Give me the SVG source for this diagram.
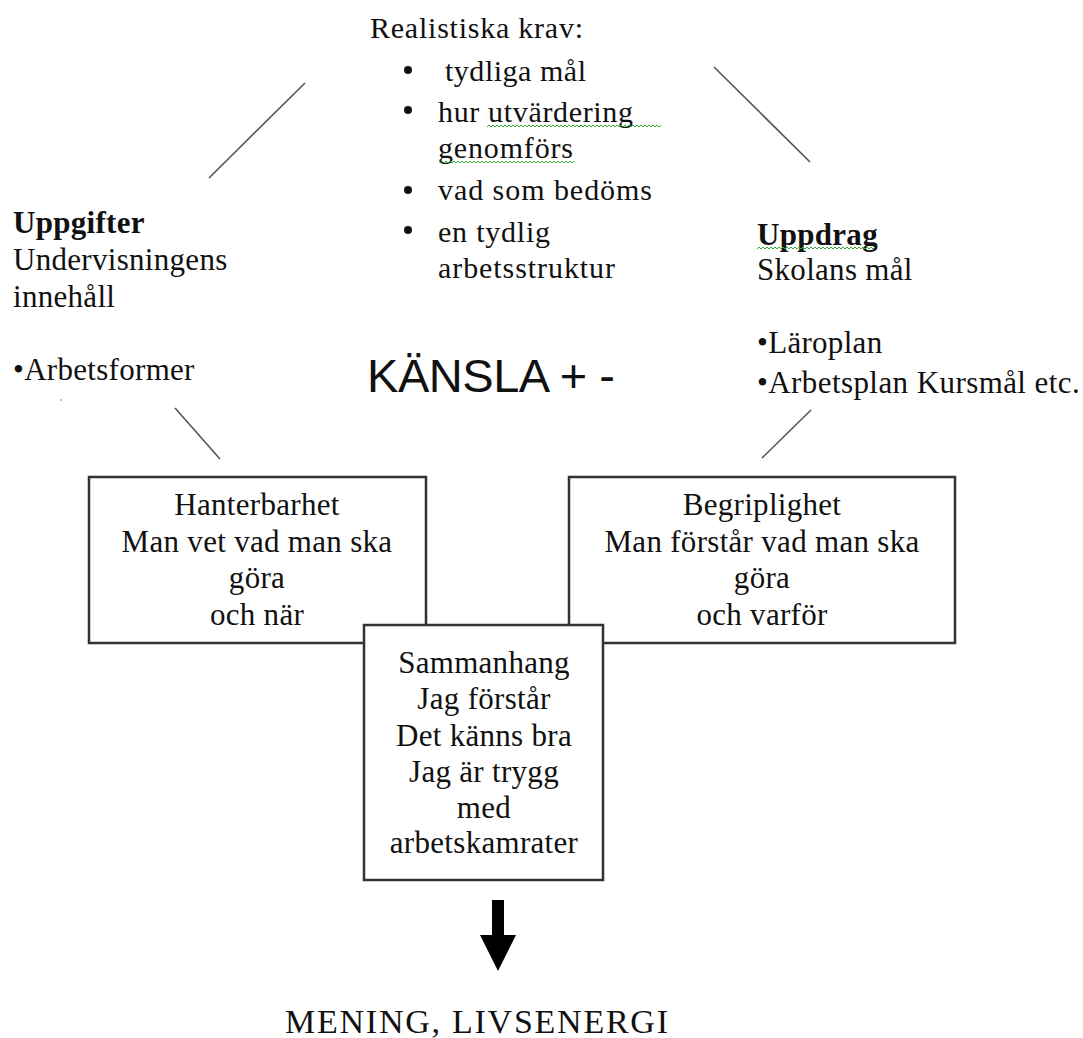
<svg xmlns="http://www.w3.org/2000/svg" width="1083" height="1038" viewBox="0 0 1083 1038">
<style>
.t{font-family:"Liberation Serif","Times New Roman",serif;font-size:31px;fill:#111;letter-spacing:0.3px}
.s{font-family:"Liberation Serif","Times New Roman",serif;font-size:30px;fill:#111}
.b{font-weight:bold}
.c{text-anchor:middle}
.box{fill:#fff;stroke:#333;stroke-width:2.5}
.ln{stroke:#555;stroke-width:1.6;fill:none}
.sq{stroke:#3a3;stroke-width:1;fill:none}
</style>
<rect width="1083" height="1038" fill="#fff"/>
<g id="connectors">
<line class="ln" x1="305" y1="83" x2="209" y2="178"/>
<line class="ln" x1="714" y1="67" x2="810" y2="162"/>
<line class="ln" x1="175" y1="408" x2="220" y2="459"/>
<line class="ln" x1="811" y1="410" x2="762" y2="458"/>
<polygon fill="#000" points="492,900 504,900 504,935 516,935 498,971 480,935 492,935"/>
</g>
<g id="krav">
<text class="s" x="370" y="38" textLength="213" lengthAdjust="spacing">Realistiska krav:</text>
<circle cx="408" cy="70" r="4" fill="#111"/>
<circle cx="408" cy="110" r="4" fill="#111"/>
<circle cx="408" cy="190" r="4" fill="#111"/>
<circle cx="408" cy="230" r="4" fill="#111"/>
<text class="s" x="445" y="81" textLength="141" lengthAdjust="spacing">tydliga mål</text>
<text class="s" x="438" y="122" textLength="195" lengthAdjust="spacing">hur utvärdering</text>
<text class="s" x="438" y="158" textLength="135" lengthAdjust="spacing">genomförs</text>
<text class="s" x="438" y="200" textLength="214" lengthAdjust="spacing">vad som bedöms</text>
<text class="s" x="438" y="242" textLength="112" lengthAdjust="spacing">en tydlig</text>
<text class="s" x="438" y="278" textLength="177" lengthAdjust="spacing">arbetsstruktur</text>
<path class="sq" d="M487,127 l2,-2 l2,2 l2,-2 l2,2 l2,-2 l2,2 l2,-2 l2,2 l2,-2 l2,2 l2,-2 l2,2 l2,-2 l2,2 l2,-2 l2,2 l2,-2 l2,2 l2,-2 l2,2 l2,-2 l2,2 l2,-2 l2,2 l2,-2 l2,2 l2,-2 l2,2 l2,-2 l2,2 l2,-2 l2,2 l2,-2 l2,2 l2,-2 l2,2 l2,-2 l2,2 l2,-2 l2,2 l2,-2 l2,2 l2,-2 l2,2 l2,-2 l2,2 l2,-2 l2,2 l2,-2 l2,2 l2,-2 l2,2 l2,-2 l2,2 l2,-2 l2,2 l2,-2 l2,2 l2,-2 l2,2 l2,-2 l2,2 l2,-2 l2,2 l2,-2 l2,2 l2,-2 l2,2 l2,-2 l2,2 l2,-2 l2,2 l2,-2 l2,2 l2,-2 l2,2 l2,-2 l2,2 l2,-2 l2,2 l2,-2 l2,2 l2,-2 l2,2 l2,-2 l2,2 l2,-2"/>
<path class="sq" d="M440,163 l2,-2 l2,2 l2,-2 l2,2 l2,-2 l2,2 l2,-2 l2,2 l2,-2 l2,2 l2,-2 l2,2 l2,-2 l2,2 l2,-2 l2,2 l2,-2 l2,2 l2,-2 l2,2 l2,-2 l2,2 l2,-2 l2,2 l2,-2 l2,2 l2,-2 l2,2 l2,-2 l2,2 l2,-2 l2,2 l2,-2 l2,2 l2,-2 l2,2 l2,-2 l2,2 l2,-2 l2,2 l2,-2 l2,2 l2,-2 l2,2 l2,-2 l2,2 l2,-2 l2,2 l2,-2 l2,2 l2,-2 l2,2 l2,-2 l2,2 l2,-2 l2,2 l2,-2 l2,2 l2,-2 l2,2 l2,-2 l2,2 l2,-2 l2,2 l2,-2 l2,2 l2,-2"/>
</g>
<g id="uppgifter">
<text class="t b" x="13" y="233">Uppgifter</text>
<text class="t" x="13" y="270">Undervisningens</text>
<text class="t" x="13" y="307">innehåll</text>
<text class="t" x="13" y="380">•Arbetsformer</text>
<circle cx="61" cy="400" r="0.8" fill="#a55"/>
</g>
<g id="uppdrag">
<text class="t b" x="757" y="245">Uppdrag</text>
<path class="sq" d="M757,249 l2,-2 l2,2 l2,-2 l2,2 l2,-2 l2,2 l2,-2 l2,2 l2,-2 l2,2 l2,-2 l2,2 l2,-2 l2,2 l2,-2 l2,2 l2,-2 l2,2 l2,-2 l2,2 l2,-2 l2,2 l2,-2 l2,2 l2,-2 l2,2 l2,-2 l2,2 l2,-2 l2,2 l2,-2 l2,2 l2,-2 l2,2 l2,-2 l2,2 l2,-2 l2,2 l2,-2 l2,2 l2,-2 l2,2 l2,-2 l2,2 l2,-2 l2,2 l2,-2 l2,2 l2,-2 l2,2 l2,-2 l2,2 l2,-2 l2,2 l2,-2 l2,2 l2,-2 l2,2 l2,-2"/>
<text class="t" x="757" y="280">Skolans mål</text>
<text class="t" x="757" y="353">•Läroplan</text>
<text class="t" x="757" y="393" textLength="323" lengthAdjust="spacing">•Arbetsplan Kursmål etc.</text>
</g>
<g id="kansla">
<text x="367" y="392" font-family="'Liberation Sans',Arial,sans-serif" font-size="47" fill="#111" textLength="248" lengthAdjust="spacing">KÄNSLA + -</text>
</g>
<g id="hanterbarhet">
<rect class="box" x="89" y="477" width="337" height="166"/>
<text class="t c" x="257" y="515">Hanterbarhet</text>
<text class="t c" x="257" y="552">Man vet vad man ska</text>
<text class="t c" x="257" y="588">göra</text>
<text class="t c" x="257" y="625">och när</text>
</g>
<g id="begriplighet">
<rect class="box" x="569" y="477" width="386" height="166"/>
<text class="t c" x="762" y="515">Begriplighet</text>
<text class="t c" x="762" y="552">Man förstår vad man ska</text>
<text class="t c" x="762" y="588">göra</text>
<text class="t c" x="762" y="625">och varför</text>
</g>
<g id="sammanhang">
<rect class="box" x="364" y="625" width="239" height="255"/>
<text class="t c" x="484" y="673">Sammanhang</text>
<text class="t c" x="484" y="709">Jag förstår</text>
<text class="t c" x="484" y="746">Det känns bra</text>
<text class="t c" x="484" y="782">Jag är trygg</text>
<text class="t c" x="484" y="818">med</text>
<text class="t c" x="484" y="853">arbetskamrater</text>
</g>
<g id="mening">
<text class="t" x="285" y="1033" style="font-size:34px;letter-spacing:0" textLength="383" lengthAdjust="spacing">MENING, LIVSENERGI</text>
</g>
</svg>
